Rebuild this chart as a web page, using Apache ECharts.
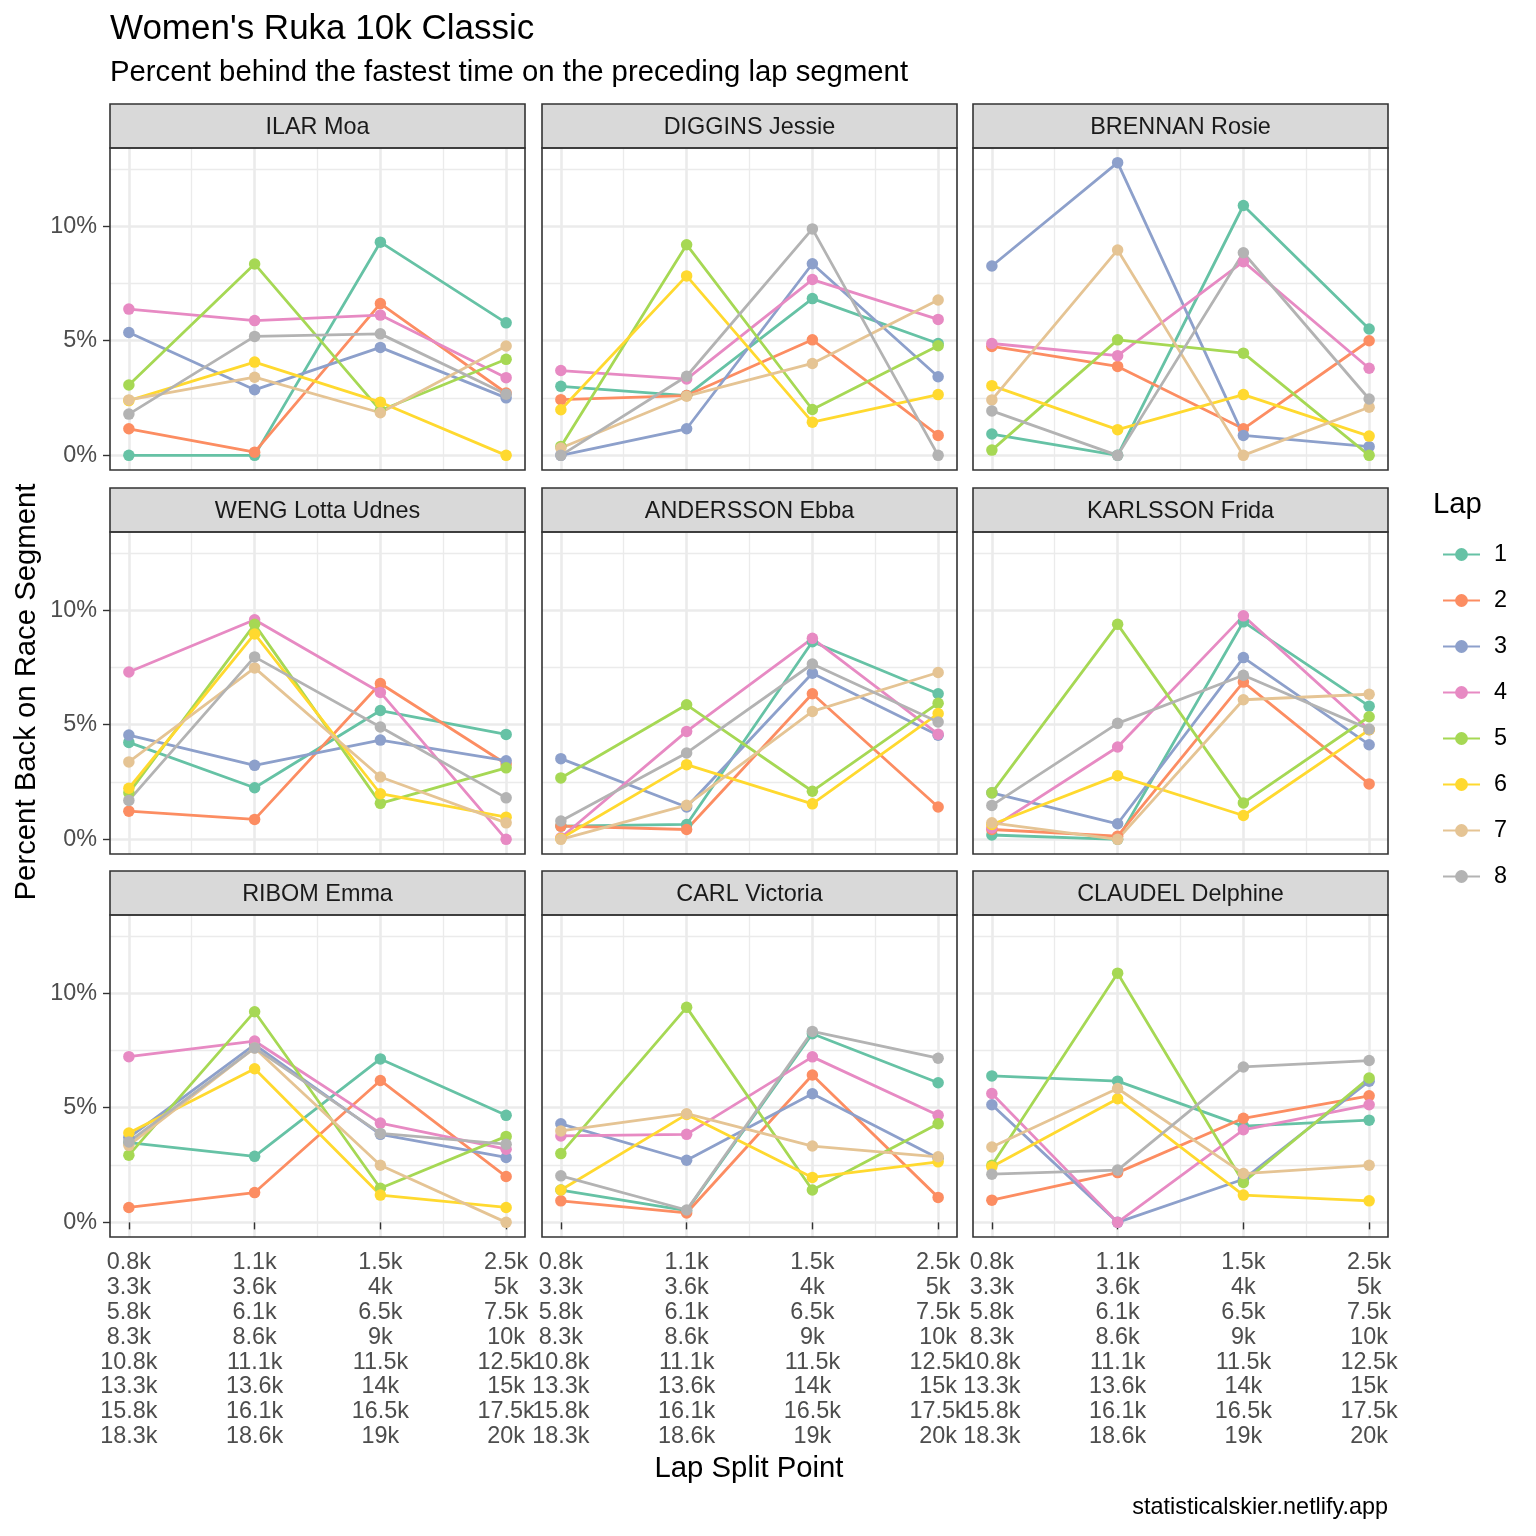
<!DOCTYPE html>
<html>
<head>
<meta charset="utf-8">
<script src="https://cdn.jsdelivr.net/npm/echarts@6/dist/echarts.min.js"></script>
<style>
html,body{margin:0;padding:0;background:#ffffff;}
#chart{width:1536px;height:1536px;}
</style>
</head>
<body>
<div id="chart"></div>
<script>
// ---------------- data ----------------
const splitPoints = [1, 2, 3, 4];
const splitLabels = [
  ["0.8k", "3.3k", "5.8k", "8.3k", "10.8k", "13.3k", "15.8k", "18.3k"],
  ["1.1k", "3.6k", "6.1k", "8.6k", "11.1k", "13.6k", "16.1k", "18.6k"],
  ["1.5k", "4k", "6.5k", "9k", "11.5k", "14k", "16.5k", "19k"],
  ["2.5k", "5k", "7.5k", "10k", "12.5k", "15k", "17.5k", "20k"]
];
const xMinorBreaks = [1.5, 2.5, 3.5];
const yBreaks = [0, 5, 10];
const yMinorBreaks = [2.5, 7.5, 12.5];
const laps = ["1", "2", "3", "4", "5", "6", "7", "8"];
const lapColors = ["#66C2A5", "#FC8D62", "#8DA0CB", "#E78AC3", "#A6D854", "#FFD92F", "#E5C494", "#B3B3B3"];
const athletes = ["ILAR Moa", "DIGGINS Jessie", "BRENNAN Rosie",
                  "WENG Lotta Udnes", "ANDERSSON Ebba", "KARLSSON Frida",
                  "RIBOM Emma", "CARL Victoria", "CLAUDEL Delphine"];

// percent back per lap (rows = laps 1..8, columns = split points)
const ilarMoa = [
  [0, 0, 9.30, 5.78], [1.16, 0.14, 6.62, 2.72], [5.36, 2.86, 4.71, 2.51], [6.38, 5.88, 6.12, 3.39],
  [3.07, 8.35, 1.96, 4.19], [2.39, 4.07, 2.32, 0], [2.42, 3.41, 1.86, 4.77], [1.80, 5.19, 5.30, 2.67]
];
const digginsJessie = [
  [3.01, 2.61, 6.84, 4.88], [2.43, 2.61, 5.04, 0.87], [0, 1.16, 8.36, 3.43], [3.70, 3.33, 7.67, 5.93],
  [0.39, 9.19, 2.00, 4.78], [1.99, 7.83, 1.45, 2.65], [0.32, 2.58, 4.01, 6.78], [0, 3.45, 9.88, 0]
];
const brennanRosie = [
  [0.93, 0, 10.90, 5.51], [4.75, 3.88, 1.16, 5.00], [8.26, 12.77, 0.87, 0.38], [4.88, 4.35, 8.45, 3.80],
  [0.23, 5.04, 4.46, 0], [3.04, 1.12, 2.65, 0.84], [2.42, 8.96, 0, 2.10], [1.94, 0, 8.84, 2.46]
];
const wengLottaUdnes = [
  [4.23, 2.25, 5.62, 4.58], [1.23, 0.87, 6.80, 3.29], [4.55, 3.23, 4.33, 3.43], [7.30, 9.58, 6.41, 0],
  [2.03, 9.38, 1.57, 3.12], [2.23, 8.96, 1.99, 0.97], [3.38, 7.48, 2.72, 0.72], [1.70, 7.96, 4.90, 1.81]
];
const anderssonEbba = [
  [0.58, 0.65, 8.62, 6.35], [0.58, 0.43, 6.35, 1.41], [3.52, 1.41, 7.25, 4.54], [0.07, 4.71, 8.77, 4.59],
  [2.68, 5.87, 2.10, 5.94], [0.04, 3.26, 1.55, 5.49], [0, 1.49, 5.58, 7.28], [0.80, 3.77, 7.65, 5.12]
];
const karlssonFrida = [
  [0.19, 0, 9.49, 5.81], [0.43, 0.14, 6.86, 2.42], [2.03, 0.68, 7.93, 4.13], [0.50, 4.03, 9.75, 4.78],
  [2.03, 9.38, 1.59, 5.35], [0.65, 2.78, 1.04, 4.78], [0.72, 0, 6.09, 6.33], [1.48, 5.06, 7.16, 4.81]
];
const ribomEmma = [
  [3.48, 2.88, 7.13, 4.67], [0.65, 1.30, 6.19, 2.00], [3.70, 7.75, 3.84, 2.83], [7.23, 7.91, 4.33, 3.19],
  [2.93, 9.19, 1.49, 3.75], [3.90, 6.70, 1.19, 0.65], [3.36, 7.61, 2.49, 0], [3.51, 7.61, 3.88, 3.41]
];
const carlVictoria = [
  [1.41, 0.51, 8.23, 6.09], [0.94, 0.41, 6.43, 1.09], [4.30, 2.71, 5.61, 2.80], [3.77, 3.84, 7.22, 4.67],
  [3.00, 9.38, 1.41, 4.30], [1.41, 4.71, 1.96, 2.64], [3.99, 4.74, 3.33, 2.86], [2.03, 0.54, 8.33, 7.16]
];
const claudelDelphine = [
  [6.39, 6.16, 4.20, 4.46], [0.97, 2.17, 4.54, 5.52], [5.13, 0, 1.88, 6.16], [5.62, 0, 4.04, 5.13],
  [2.49, 10.87, 1.74, 6.30], [2.43, 5.39, 1.19, 0.94], [3.29, 5.84, 2.13, 2.49], [2.10, 2.28, 6.78, 7.06]
];
const athleteValues = [ilarMoa, digginsJessie, brennanRosie, wengLottaUdnes, anderssonEbba,
                       karlssonFrida, ribomEmma, carlVictoria, claudelDelphine];

// ---------------- layout ----------------
const FONT = "'Liberation Sans', Arial, Helvetica, sans-serif";
const colLeft = [110, 542, 973];
const rowTop = [148, 532, 915];
const PW = 415, PH = 322, STRIP = 44;

// ggplot-like 5% expansion
let vmax = -Infinity, vmin = Infinity;
athleteValues.forEach(a => a.forEach(r => r.forEach(v => { vmax = Math.max(vmax, v); vmin = Math.min(vmin, v); })));
const yPad = (vmax - vmin) * 0.05;
const yMin = vmin - yPad, yMax = vmax + yPad;
const xPad = (splitPoints[splitPoints.length - 1] - splitPoints[0]) * 0.05;
const xMin = splitPoints[0] - xPad, xMax = splitPoints[splitPoints.length - 1] + xPad;

const grids = [], xAxes = [], yAxes = [], series = [], graphics = [];

athletes.forEach((name, i) => {
  const r = Math.floor(i / 3), c = i % 3;
  const left = colLeft[c], top = rowTop[r];
  const isBottom = r === 2, isLeft = c === 0;
  grids.push({ left: left, top: top, width: PW, height: PH, show: true,
    backgroundColor: '#ffffff', borderWidth: 0, containLabel: false, outerBoundsMode: 'none' });

  // major x
  xAxes.push({
    type: 'value', gridIndex: i, min: xMin, max: xMax, position: 'bottom',
    axisLine: { show: false },
    axisTick: { show: isBottom, customValues: splitPoints, length: 7, lineStyle: { color: '#333333', width: 1.4 } },
    axisLabel: { show: isBottom, customValues: splitPoints, margin: 13, fontSize: 23.4, lineHeight: 24.9,
      color: '#4D4D4D', fontFamily: FONT,
      formatter: v => splitLabels[Math.round(v) - 1].join('\n') },
    splitLine: { show: true, lineStyle: { color: '#EBEBEB', width: 2.6 } }
  });
  // minor x
  xAxes.push({
    type: 'value', gridIndex: i, min: xMin, max: xMax, position: 'top',
    axisLine: { show: false },
    axisTick: { show: false, customValues: xMinorBreaks },
    axisLabel: { show: false, customValues: xMinorBreaks },
    splitLine: { show: true, lineStyle: { color: '#EBEBEB', width: 1.3 } }
  });
  // major y
  yAxes.push({
    type: 'value', gridIndex: i, min: yMin, max: yMax, position: 'left',
    axisLine: { show: false },
    axisTick: { show: isLeft, customValues: yBreaks, length: 7, lineStyle: { color: '#333333', width: 1.4 } },
    axisLabel: { show: isLeft, customValues: yBreaks, margin: 13, fontSize: 23.4, color: '#4D4D4D',
      fontFamily: FONT, formatter: v => Math.round(v) + '%' },
    splitLine: { show: true, lineStyle: { color: '#EBEBEB', width: 2.6 } }
  });
  // minor y
  yAxes.push({
    type: 'value', gridIndex: i, min: yMin, max: yMax, position: 'right',
    axisLine: { show: false },
    axisTick: { show: false, customValues: yMinorBreaks },
    axisLabel: { show: false, customValues: yMinorBreaks },
    splitLine: { show: true, lineStyle: { color: '#EBEBEB', width: 1.3 } }
  });

  athleteValues[i].forEach((vals, j) => {
    series.push({
      type: 'line', name: laps[j],
      xAxisIndex: 2 * i, yAxisIndex: 2 * i,
      data: splitPoints.map((x, k) => [x, vals[k]]),
      symbol: 'circle', symbolSize: 11.5, showSymbol: true,
      lineStyle: { color: lapColors[j], width: 2.8 },
      itemStyle: { color: lapColors[j] },
      emphasis: { disabled: true },
      animation: false, z: 3
    });
  });

  // strip
  graphics.push({ type: 'rect', z: 100, shape: { x: left, y: top - STRIP, width: PW, height: STRIP },
    style: { fill: '#D9D9D9', stroke: '#333333', lineWidth: 1.6 } });
  graphics.push({ type: 'text', z: 101, x: left + PW / 2, y: top - STRIP / 2 + 2,
    style: { text: name, textAlign: 'center', textVerticalAlign: 'middle', fontSize: 23.4,
      fontFamily: FONT, fill: '#1A1A1A' } });
  // panel border on top
  graphics.push({ type: 'rect', z: 100, shape: { x: left, y: top, width: PW, height: PH },
    style: { fill: 'none', stroke: '#333333', lineWidth: 1.6 } });
});

// titles and annotations
graphics.push({ type: 'text', z: 101, x: 110, y: 29,
  style: { text: "Women's Ruka 10k Classic", textAlign: 'left', textVerticalAlign: 'middle',
    fontSize: 35, fontFamily: FONT, fill: '#000000' } });
graphics.push({ type: 'text', z: 101, x: 110, y: 73,
  style: { text: 'Percent behind the fastest time on the preceding lap segment', textAlign: 'left',
    textVerticalAlign: 'middle', fontSize: 29.3, fontFamily: FONT, fill: '#000000' } });
graphics.push({ type: 'text', z: 101, x: 27, y: 692, rotation: Math.PI / 2,
  style: { text: 'Percent Back on Race Segment', textAlign: 'center', textVerticalAlign: 'middle',
    fontSize: 29.3, fontFamily: FONT, fill: '#000000' } });
graphics.push({ type: 'text', z: 101, x: 749, y: 1469,
  style: { text: 'Lap Split Point', textAlign: 'center', textVerticalAlign: 'middle',
    fontSize: 29.3, fontFamily: FONT, fill: '#000000' } });
graphics.push({ type: 'text', z: 101, x: 1388, y: 1508,
  style: { text: 'statisticalskier.netlify.app', textAlign: 'right', textVerticalAlign: 'middle',
    fontSize: 23.4, fontFamily: FONT, fill: '#000000' } });
graphics.push({ type: 'text', z: 101, x: 1433, y: 505,
  style: { text: 'Lap', textAlign: 'left', textVerticalAlign: 'middle',
    fontSize: 29.3, fontFamily: FONT, fill: '#000000' } });

const option = {
  backgroundColor: '#ffffff',
  animation: false,
  grid: grids,
  xAxis: xAxes,
  yAxis: yAxes,
  series: series,
  legend: {
    data: laps, orient: 'vertical', left: 1437, top: 538,
    itemWidth: 37, itemHeight: 16, itemGap: 23,
    textStyle: { fontSize: 23.4, fontFamily: FONT, color: '#000000', lineHeight: 16, padding: [0, 0, 0, 9] },
    selectedMode: false
  },
  graphic: { elements: graphics }
};

const chart = echarts.init(document.getElementById('chart'), null, { renderer: 'canvas', width: 1536, height: 1536 });
chart.setOption(option);
</script>
</body>
</html>
